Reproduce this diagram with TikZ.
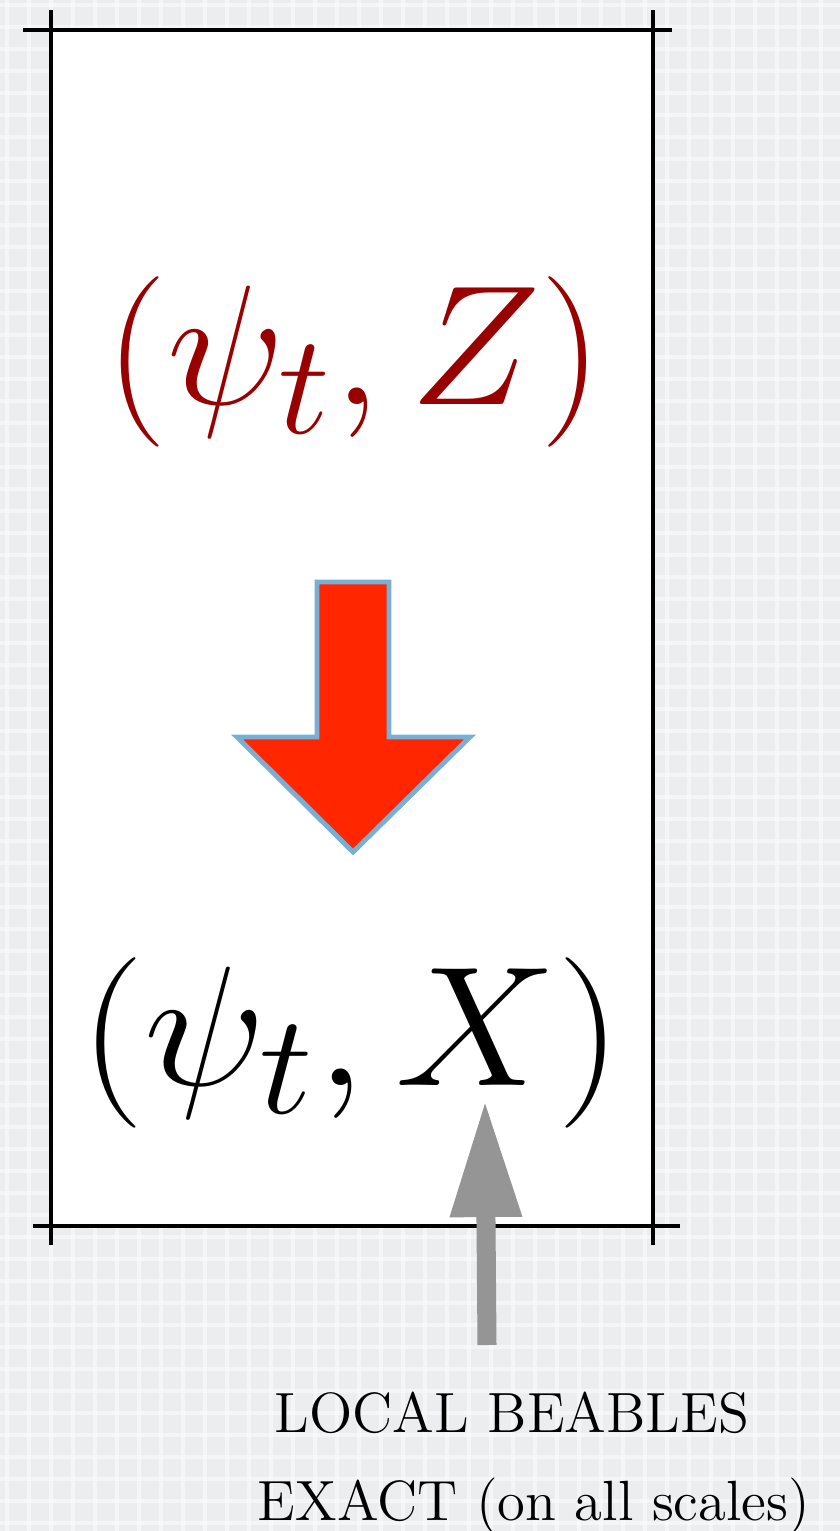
\documentclass[tikz,border=0pt]{standalone}
\usepackage{amsmath,amssymb}
\usepackage{graphicx}
\usetikzlibrary{arrows.meta,calc,positioning}
\definecolor{pairred}{HTML}{990000}
\definecolor{arrowred}{HTML}{FF2600}
\definecolor{arrowblue}{HTML}{78B0D5}
\definecolor{pointergray}{HTML}{959595}
\definecolor{paper}{HTML}{ECEDEF}
\newcommand{\bigpairtext}[2]{\scalebox{#1}[1.95]{\Huge #2}}
\newcommand{\captiontext}[1]{\scalebox{1.12}{\Large #1}}

\begin{document}
\begin{tikzpicture}[x=0.01cm,y=-0.01cm]
  \tikzset{
    frameline/.style={line width=1.4pt},
    bigpair/.style={anchor=base,inner sep=0pt},
    caption/.style={anchor=base,inner sep=0pt},
    plaid/.style={white,opacity=0.45,line width=1.2pt},
  }
  \fill[paper] (0,0) rectangle (840,1531);
  \useasboundingbox (0,0) rectangle (840,1531);
  % faint plaid of the paper
  \foreach \k in {0,1,...,38}
    \draw[plaid] (\k*22+7,0) -- (\k*22+7,1531);
  \foreach \k in {0,1,...,69}
    \draw[plaid] (0,\k*22+5) -- (840,\k*22+5);
  \fill[white] (51,30) rectangle (653,1226);

  % frame with overhanging corners
  \draw[frameline] (23,30) -- (672,30);
  \draw[frameline] (33,1226) -- (680,1226);
  \draw[frameline] (51,10) -- (51,1245);
  \draw[frameline] (653,10) -- (653,1245);

  % the two pairs
  \node[bigpair,text=pairred] (top) at (354,405) {\bigpairtext{2.0}{$(\psi_t, Z)$}};
  \node[bigpair] (bottom) at (351,1085) {\bigpairtext{2.07}{$(\psi_t, X)$}};

  % red arrow from (psi_t,Z) down to (psi_t,X)
  \coordinate (s1) at (317,582);
  \coordinate (s2) at (389,582);
  \coordinate (tip) at (353,852);
  \draw[fill=arrowred,draw=arrowblue,line width=1.4pt]
    (s1) -- (s2) -- (389,737) -- (470,737) -- (tip) -- (237,737) -- (317,737) -- cycle;

  % caption and grey pointer to X
  \node[caption] (local) at (512,1432) {\captiontext{LOCAL BEABLES}};
  \node[caption] (exact) at (534,1520) {\captiontext{EXACT (on all scales)}};
  \coordinate (foot) at (487,1345);
  \coordinate (xmark) at (485,1100);
  \draw[pointergray,line width=0.19cm,-{Triangle[length=1.17cm,width=0.67cm]}] (foot) -- (xmark);
\end{tikzpicture}
\end{document}
